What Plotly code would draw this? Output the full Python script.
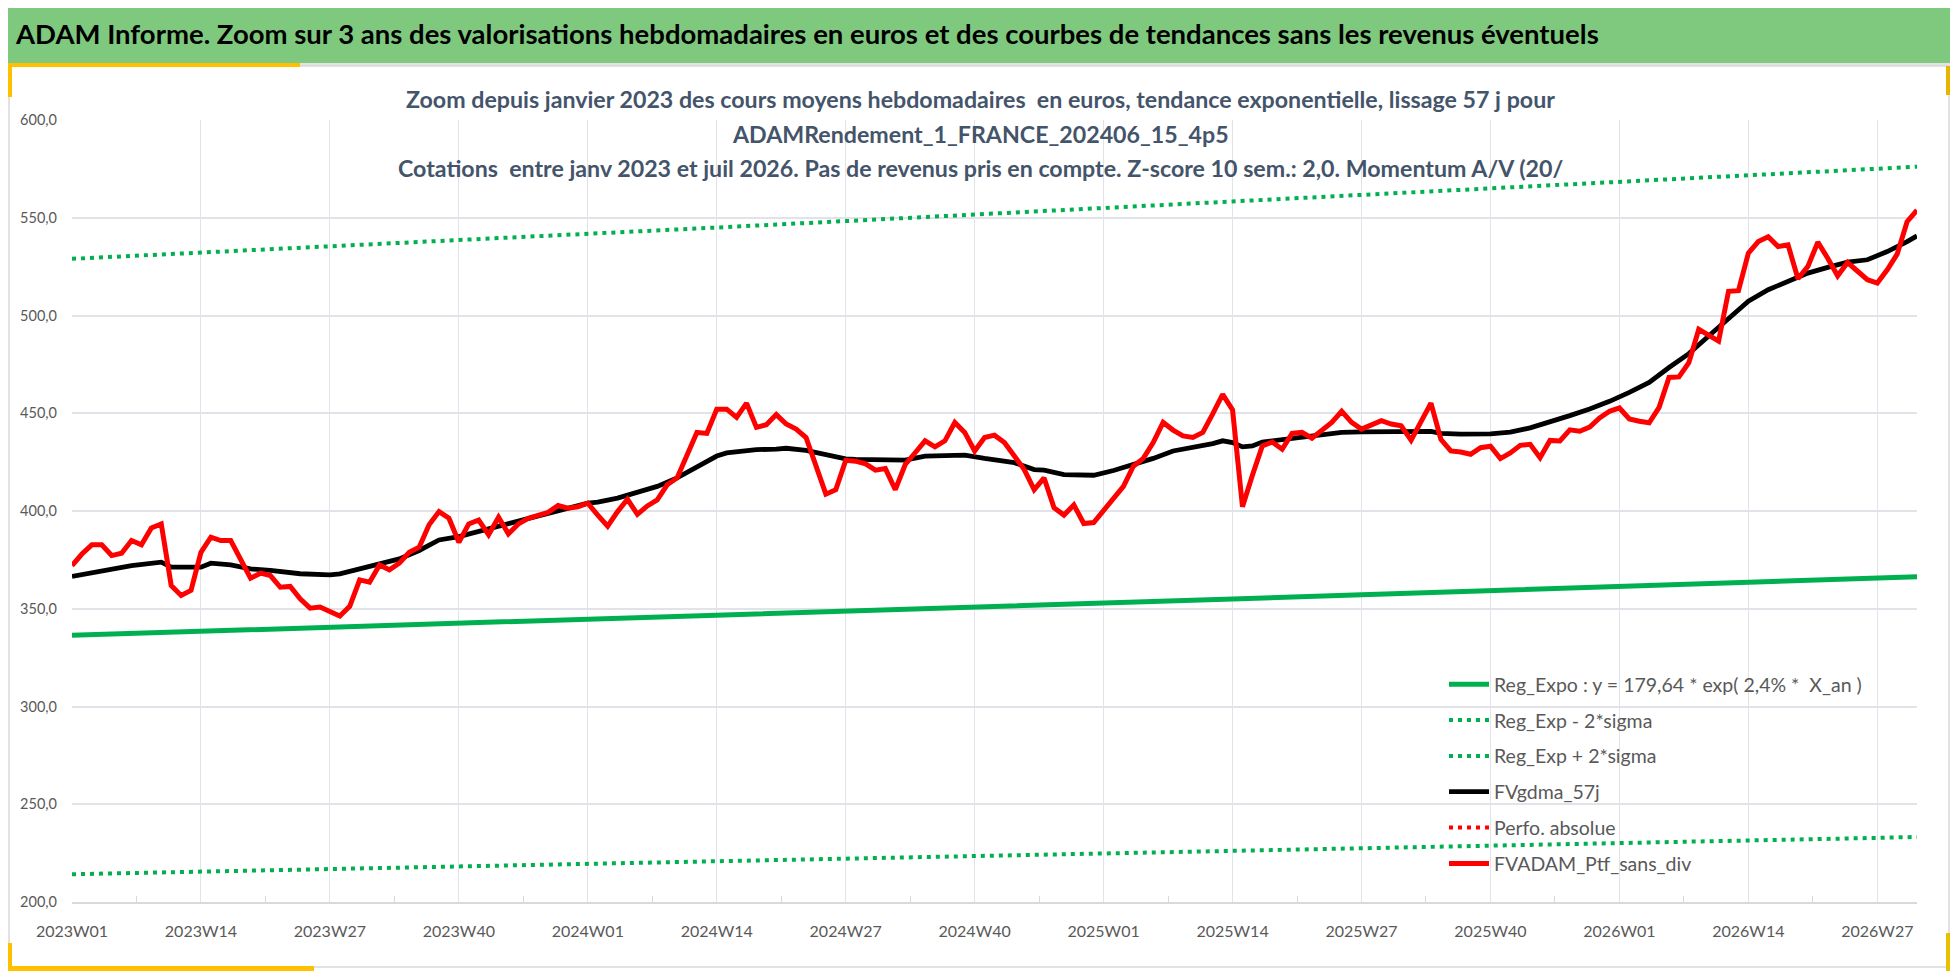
import plotly.graph_objects as go

# ---------------- data ----------------
YEAR_WEEKS = [(2023, 52), (2024, 52), (2025, 52), (2026, 31)]
WEEK_LABELS = [f"{y}W{w:02d}" for y, n in YEAR_WEEKS for w in range(1, n + 1)]

TICK_LABELS = ["2023W01", "2023W14", "2023W27", "2023W40", "2024W01", "2024W14",
               "2024W27", "2024W40", "2025W01", "2025W14", "2025W27", "2025W40",
               "2026W01", "2026W14", "2026W27"]

# FVADAM_Ptf_sans_div (weekly, one value per week label)
RED_VALUES = [
    372.1, 378.0, 382.7, 382.7, 377.2, 378.4, 384.9, 382.7, 391.3, 393.4,
    361.9, 356.8, 359.4, 378.9, 386.6, 384.9, 384.9, 375.5, 365.6, 368.2,
    367.0, 361.0, 361.4, 355.1, 350.3, 350.9, 348.8, 346.3, 351.2, 364.8,
    363.6, 372.4, 369.9, 373.3, 378.9, 381.5, 393.0, 399.7, 396.3, 384.0,
    393.4, 395.4, 387.9, 396.8, 388.3, 393.4, 396.3, 397.6, 399.3, 402.8,
    401.4, 402.2, 404.0, 397.9, 392.2, 399.7, 406.0, 398.3, 402.6, 405.7,
    413.4, 416.9, 428.1, 440.2, 439.7, 452.1, 452.1, 447.9, 455.2, 442.8,
    444.1, 449.3, 444.5, 441.9, 437.6, 422.1, 408.6, 410.9, 425.9, 425.5,
    424.1, 420.9, 421.7, 410.9, 423.8, 429.8, 435.9, 432.8, 435.9, 445.3,
    440.2, 430.7, 437.6, 438.8, 435.0, 428.1, 421.2, 410.9, 416.9, 401.7,
    397.9, 403.1, 393.6, 394.1, 400.5, 406.9, 412.6, 422.9, 426.9, 435.0,
    445.3, 441.4, 438.4, 437.6, 440.2, 449.7, 459.7, 451.7, 402.2, 418.3,
    433.3, 435.3, 431.6, 439.7, 440.2, 437.2, 441.0, 445.3, 451.0, 445.3,
    441.9, 444.1, 446.2, 444.5, 443.6, 436.2, 445.9, 455.2, 436.7, 430.7,
    430.2, 429.0, 432.4, 433.1, 426.8, 429.7, 433.6, 434.1, 427.3, 436.1,
    435.8, 441.5, 440.8, 442.9, 447.6, 451.0, 452.7, 447.1, 445.9, 445.1,
    453.0, 468.3, 468.6, 475.9, 492.9, 490.0, 486.9, 512.4, 512.7, 531.9,
    537.8, 540.3, 535.3, 536.1, 518.8, 525.1, 537.5, 529.3, 520.3, 527.1,
    522.9, 518.3, 516.6, 523.4, 531.4, 548.0, 553.9,
]

# FVgdma_57j (smoothed), read at these week positions
BLACK_IDX = [0, 3, 6, 9, 10, 13, 14, 16, 18, 20, 23, 26, 27, 29, 31, 33, 35, 37, 39,
             41, 43, 45, 48, 52, 53, 55, 57, 59, 61, 63, 65, 66, 67, 69, 71, 72, 74,
             76, 78, 79, 81, 83, 84, 86, 88, 90, 92, 95, 97, 98, 100, 103, 105, 107,
             109, 111, 113, 115, 116, 117, 118, 119, 120, 122, 124, 126, 128, 130,
             132, 134, 136, 137, 138, 140, 143, 145, 147, 149, 151, 153, 155, 157,
             159, 161, 163, 165, 167, 169, 171, 173, 175, 177, 179, 181, 183, 185, 186]
BLACK_VALUES = [366.5, 369.6, 372.1, 373.8, 371.3, 371.3, 373.3, 372.4, 370.4, 369.6,
                367.9, 367.3, 367.9, 370.4, 373.0, 375.5, 379.8, 385.2, 386.9, 389.6,
                392.5, 395.0, 398.8, 404.0, 404.5, 406.6, 409.7, 412.6, 416.9, 422.4,
                428.1, 429.7, 430.3, 431.4, 431.6, 432.1, 431.0, 429.0, 426.7, 426.4,
                426.2, 425.9, 426.0, 428.1, 428.1, 428.6, 426.9, 424.7, 421.2, 420.9,
                418.6, 418.3, 420.7, 423.8, 426.9, 430.7, 432.4, 434.5, 435.9, 435.0,
                432.8, 433.3, 435.3, 436.4, 437.6, 438.8, 440.2, 440.5, 440.7, 440.5,
                440.7, 440.7, 439.7, 439.3, 439.5, 440.3, 442.5, 445.4, 448.8, 452.2,
                456.1, 460.7, 465.8, 473.4, 480.5, 489.5, 498.0, 507.3, 513.2, 517.5,
                521.7, 524.6, 527.3, 528.5, 532.7, 537.8, 540.7]

# exponential regression and +/- 2 sigma bands, read at these week positions
REG_IDX = [0, 13, 26, 39, 52, 65, 78, 91, 104, 117, 130, 143, 156, 169, 182, 186]
REG_VALUES = [336.4, 338.4, 340.4, 342.5, 344.5, 346.6, 348.7, 350.8, 352.9, 355.0,
              357.1, 359.2, 361.4, 363.6, 365.7, 366.4]
REG_LOW = [214.2, 215.5, 216.7, 218.1, 219.3, 220.7, 222.0, 223.4, 224.7, 226.0,
           227.4, 228.7, 230.1, 231.5, 232.8, 233.3]
REG_HIGH = [529.0, 532.1, 535.3, 538.6, 541.7, 545.0, 548.3, 551.6, 554.9, 558.2,
            561.5, 564.8, 568.3, 571.8, 575.1, 576.1]

SERIES_NAMES = ["Reg_Expo : y = 179,64 * exp( 2,4% *  X_an )", "Reg_Exp - 2*sigma",
                "Reg_Exp + 2*sigma", "FVgdma_57j", "Perfo. absolue", "FVADAM_Ptf_sans_div"]

TITLE = ("ADAM Informe. Zoom sur 3 ans des valorisations hebdomadaires en euros et des "
         "courbes de tendances sans les revenus éventuels")
SUBTITLE = ["Zoom depuis janvier 2023 des cours moyens hebdomadaires  en euros, tendance exponentielle, lissage 57 j pour",
            "ADAMRendement_1_FRANCE_202406_15_4p5",
            "Cotations  entre janv 2023 et juil 2026. Pas de revenus pris en compte. Z-score 10 sem.: 2,0. Momentum A/V (20/"]

# ---------------- layout geometry ----------------
# the page body has an 8px margin, so the figure is 16px smaller than the window
OFF = 8
FW, FH = 1958 - 2 * OFF, 979 - 2 * OFF
L, T = 72 - OFF, 120 - OFF
R = FW - (1917 - OFF)
B = FH - (902 - OFF)
PW, PH = FW - L - R, FH - T - B


def fx(rx):
    """screen x (window pixels) -> paper x"""
    return (rx - OFF - L) / PW


def fy(ry):
    """screen y (window pixels, from top) -> paper y"""
    return (FH - B - (ry - OFF)) / PH


FONT = "Lato, 'Open Sans', sans-serif"
GREEN = "#00B050"
DOT = "4px,5px"

x_all = list(range(len(RED_VALUES)))

fig = go.Figure()
fig.add_trace(go.Scatter(x=REG_IDX, y=REG_VALUES, name=SERIES_NAMES[0], mode="lines",
                         line=dict(color=GREEN, width=5), legendgroup="a"))
fig.add_trace(go.Scatter(x=REG_IDX, y=REG_LOW, name=SERIES_NAMES[1], mode="lines",
                         line=dict(color=GREEN, width=4, dash=DOT), legendgroup="b"))
fig.add_trace(go.Scatter(x=REG_IDX, y=REG_HIGH, name=SERIES_NAMES[2], mode="lines",
                         line=dict(color=GREEN, width=4, dash=DOT), legendgroup="c"))
fig.add_trace(go.Scatter(x=BLACK_IDX, y=BLACK_VALUES, name=SERIES_NAMES[3], mode="lines",
                         line=dict(color="#000000", width=4.8), legendgroup="d"))
fig.add_trace(go.Scatter(x=[None], y=[None], name=SERIES_NAMES[4], mode="lines",
                         line=dict(color="#FF0000", width=4, dash=DOT), legendgroup="e"))
fig.add_trace(go.Scatter(x=x_all, y=RED_VALUES, name=SERIES_NAMES[5], mode="lines",
                         line=dict(color="#FF0000", width=5), legendgroup="f"))

tickvals = [WEEK_LABELS.index(t) for t in TICK_LABELS]

shapes = []


def rect(x0, y0, x1, y1, fill=None, line=None, lw=0):
    shapes.append(dict(type="rect", xref="paper", yref="paper",
                       x0=fx(x0), x1=fx(x1), y0=fy(y1), y1=fy(y0),
                       fillcolor=fill if fill else "rgba(0,0,0,0)",
                       line=dict(color=line if line else "rgba(0,0,0,0)", width=lw),
                       layer="above"))


# title band and frame decorations (screen coordinates)
rect(OFF, OFF, 1958 - OFF, 63, fill="#7FC97F")
rect(OFF, 63, 1958 - OFF, 66, fill="#E3E3E3")
rect(OFF + 1, 66, 1958 - OFF - 1, 967, line="#D9D9D9", lw=1.5)
rect(OFF, 63, 300, 67, fill="#FFC000")
rect(OFF, 63, OFF + 4, 97, fill="#FFC000")
rect(1958 - OFF - 4, 66, 1958 - OFF, 95, fill="#E8B400")
rect(OFF, 966, 314, 971, fill="#FFC000")
rect(OFF, 943, OFF + 4, 971, fill="#FFC000")
rect(1958 - OFF - 4, 933, 1958 - OFF, 971, fill="#E8C000")

annotations = [
    dict(text=TITLE, xref="paper", yref="paper", x=fx(13), y=fy(33), xanchor="left",
         yanchor="middle", showarrow=False,
         font=dict(family=FONT, size=27.5, color="#000000", weight="bold")),
]
for line_text, ypix in zip(SUBTITLE, [99, 134, 168]):
    annotations.append(dict(text=line_text, xref="paper", yref="paper", x=fx(980), y=fy(ypix),
                            xanchor="center", yanchor="middle", showarrow=False,
                            font=dict(family=FONT, size=23.2, color="#44546A", weight="bold")))

fig.update_layout(
    width=FW, height=FH,
    margin=dict(l=L, r=R, t=T, b=B, autoexpand=False),
    paper_bgcolor="#FFFFFF", plot_bgcolor="#FFFFFF",
    separators=", ",
    font=dict(family=FONT, color="#595959"),
    shapes=shapes,
    annotations=annotations,
    showlegend=True,
    legend=dict(x=fx(1444), y=fy(665), xanchor="left", yanchor="top",
                bgcolor="rgba(255,255,255,0)", borderwidth=0,
                font=dict(family=FONT, size=19.5, color="#595959"),
                traceorder="grouped", tracegroupgap=7.5, itemwidth=40),
    xaxis=dict(range=[0, len(RED_VALUES) - 1], tickmode="array", tickvals=tickvals,
               ticktext=TICK_LABELS, showgrid=True, gridcolor="#E1E3E8", gridwidth=1,
               showline=True, linecolor="#D9D9D9", linewidth=1.5, zeroline=False,
               ticks="", tickfont=dict(family=FONT, size=16, color="#595959"),
               ticklabelstandoff=14,
               minor=dict(ticks="inside", ticklen=6, tickcolor="#D9D9D9", tickmode="array",
                          tickvals=[v + 6.5 for v in tickvals], showgrid=False)),
    yaxis=dict(range=[200, 600], dtick=50, tick0=200, tickformat=".1f", showgrid=True,
               gridcolor="#E1E3E8", gridwidth=1.5, zeroline=False, showline=False,
               ticks="", tickfont=dict(family=FONT, size=14.5, color="#595959"),
               ticklabelstandoff=14),
)

fig.write_html("out.html")
